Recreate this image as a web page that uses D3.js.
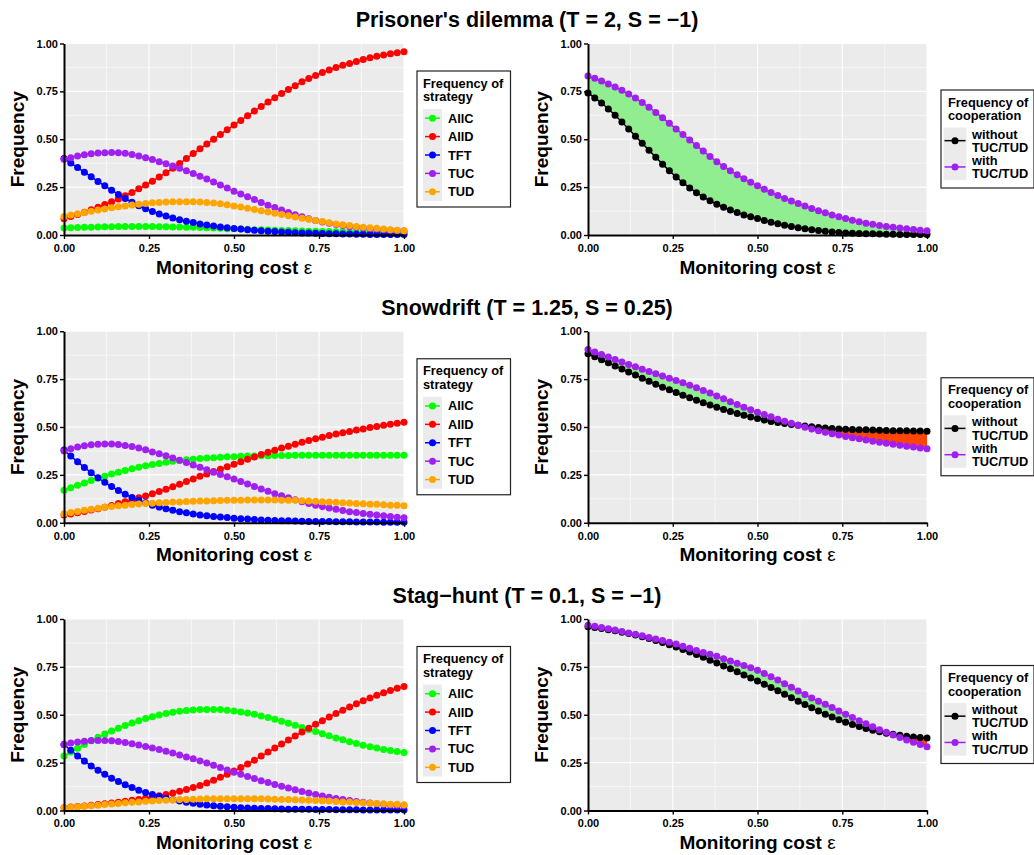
<!DOCTYPE html>
<html><head><meta charset="utf-8">
<script src="https://cdn.jsdelivr.net/npm/d3@7"></script>
<style>
body{margin:0;background:#fff}
svg{display:block}
text{font-family:"Liberation Sans",Arial,sans-serif;font-weight:bold;fill:#000}
</style>
</head><body>
<svg id="chart" width="1034" height="855"></svg>
<script>
// ---------- data ----------
const eps = [0,0.02,0.04,0.06,0.08,0.10,0.12,0.14,0.16,0.18,0.20,0.22,0.24,0.26,0.28,0.30,0.32,0.34,0.36,0.38,0.40,0.42,0.44,0.46,0.48,0.50,0.52,0.54,0.56,0.58,0.60,0.62,0.64,0.66,0.68,0.70,0.72,0.74,0.76,0.78,0.80,0.82,0.84,0.86,0.88,0.90,0.92,0.94,0.96,0.98,1.00];
const strategyNames = ["AllC","AllD","TFT","TUC","TUD"];
const strategyColors = ["#00FF00","#FF0000","#0000FF","#A020F0","#FFA500"];
const coopNames = [["without","TUC/TUD"],["with","TUC/TUD"]];
const coopColors = ["#000000","#A020F0"];
const gainColor = "#90EE90", lossColor = "#FF4500";
const tickValues = [0,0.25,0.5,0.75,1];
const minorValues = [0.125,0.375,0.625,0.875];
const gameTitles = ["Prisoner's dilemma (T = 2, S = \u22121)","Snowdrift (T = 1.25, S = 0.25)","Stag\u2212hunt (T = 0.1, S = \u22121)"];
const strategyLegendTitle = ["Frequency of","strategy"];
const coopLegendTitle = ["Frequency of","cooperation"];

// Prisoner's dilemma
const pdAllC = [0.037,0.038,0.039,0.040,0.041,0.042,0.043,0.043,0.044,0.044,0.044,0.044,0.044,0.044,0.043,0.043,0.042,0.042,0.041,0.040,0.039,0.038,0.036,0.035,0.033,0.032,0.031,0.030,0.028,0.027,0.026,0.025,0.024,0.023,0.022,0.021,0.020,0.019,0.018,0.018,0.017,0.016,0.016,0.015,0.015,0.014,0.014,0.013,0.013,0.012,0.012];
const pdAllD = [0.085,0.096,0.107,0.119,0.132,0.145,0.159,0.173,0.188,0.205,0.222,0.241,0.261,0.281,0.303,0.325,0.349,0.374,0.399,0.425,0.450,0.475,0.500,0.525,0.550,0.574,0.598,0.623,0.647,0.671,0.695,0.717,0.739,0.760,0.780,0.800,0.817,0.833,0.848,0.862,0.875,0.886,0.896,0.906,0.916,0.925,0.933,0.940,0.946,0.952,0.957];
const pdTFT = [0.400,0.376,0.352,0.328,0.304,0.280,0.257,0.234,0.212,0.191,0.171,0.153,0.137,0.123,0.110,0.099,0.089,0.080,0.072,0.065,0.058,0.052,0.047,0.042,0.038,0.034,0.031,0.028,0.025,0.022,0.020,0.018,0.016,0.014,0.012,0.011,0.010,0.009,0.008,0.007,0.006,0.005,0.005,0.004,0.004,0.003,0.003,0.003,0.002,0.002,0.002];
const pdTUC = [0.395,0.404,0.412,0.419,0.424,0.428,0.430,0.431,0.430,0.427,0.421,0.413,0.404,0.394,0.383,0.372,0.360,0.348,0.335,0.321,0.307,0.292,0.277,0.261,0.245,0.229,0.214,0.200,0.185,0.170,0.156,0.143,0.130,0.118,0.106,0.095,0.085,0.076,0.068,0.061,0.055,0.049,0.044,0.040,0.036,0.033,0.030,0.027,0.025,0.023,0.021];
const pdTUD = [0.097,0.104,0.111,0.118,0.124,0.130,0.136,0.142,0.147,0.152,0.157,0.161,0.165,0.168,0.170,0.172,0.173,0.174,0.174,0.173,0.172,0.170,0.167,0.163,0.158,0.152,0.146,0.140,0.133,0.127,0.120,0.114,0.107,0.101,0.094,0.088,0.082,0.076,0.070,0.064,0.058,0.054,0.050,0.045,0.041,0.038,0.035,0.031,0.028,0.025,0.022];
const pdWithout = [0.742,0.716,0.689,0.658,0.625,0.590,0.553,0.516,0.479,0.442,0.406,0.370,0.335,0.303,0.273,0.246,0.221,0.199,0.179,0.161,0.145,0.130,0.117,0.105,0.095,0.086,0.076,0.067,0.059,0.051,0.044,0.038,0.032,0.027,0.023,0.019,0.016,0.013,0.011,0.009,0.008,0.007,0.006,0.005,0.004,0.004,0.003,0.003,0.002,0.002,0.002];
const pdWith = [0.830,0.818,0.804,0.789,0.773,0.756,0.736,0.715,0.692,0.667,0.640,0.612,0.583,0.554,0.525,0.496,0.467,0.438,0.410,0.383,0.358,0.336,0.314,0.294,0.275,0.257,0.239,0.222,0.206,0.191,0.177,0.164,0.151,0.139,0.127,0.116,0.105,0.095,0.086,0.077,0.069,0.062,0.056,0.050,0.045,0.041,0.037,0.033,0.029,0.025,0.022];

// Snowdrift
const sdAllC = [0.170,0.183,0.196,0.208,0.220,0.232,0.243,0.254,0.264,0.273,0.282,0.290,0.297,0.304,0.310,0.316,0.321,0.325,0.329,0.332,0.335,0.338,0.340,0.342,0.344,0.345,0.347,0.348,0.349,0.350,0.350,0.351,0.351,0.351,0.352,0.352,0.352,0.352,0.353,0.353,0.353,0.353,0.353,0.353,0.353,0.353,0.353,0.353,0.353,0.353,0.353];
const sdAllD = [0.040,0.046,0.052,0.059,0.066,0.073,0.081,0.090,0.100,0.110,0.120,0.130,0.140,0.151,0.163,0.175,0.188,0.201,0.215,0.229,0.243,0.255,0.267,0.279,0.292,0.305,0.318,0.331,0.343,0.356,0.368,0.379,0.390,0.400,0.410,0.420,0.429,0.438,0.447,0.455,0.463,0.470,0.477,0.484,0.490,0.497,0.503,0.509,0.515,0.520,0.525];
const sdTFT = [0.380,0.348,0.318,0.289,0.261,0.235,0.211,0.189,0.168,0.149,0.132,0.117,0.104,0.092,0.082,0.073,0.065,0.058,0.052,0.046,0.041,0.037,0.033,0.030,0.027,0.024,0.021,0.019,0.017,0.015,0.013,0.012,0.011,0.010,0.009,0.008,0.007,0.007,0.006,0.006,0.005,0.005,0.005,0.004,0.004,0.004,0.004,0.003,0.003,0.003,0.003];
const sdTUC = [0.375,0.386,0.395,0.402,0.407,0.410,0.411,0.411,0.409,0.404,0.398,0.390,0.381,0.370,0.360,0.350,0.338,0.326,0.314,0.302,0.290,0.277,0.264,0.252,0.240,0.228,0.215,0.202,0.189,0.176,0.164,0.152,0.141,0.130,0.120,0.110,0.101,0.092,0.084,0.077,0.070,0.064,0.058,0.053,0.048,0.044,0.040,0.036,0.032,0.029,0.026];
const sdTUD = [0.047,0.053,0.059,0.065,0.071,0.076,0.081,0.085,0.089,0.092,0.095,0.098,0.100,0.102,0.104,0.106,0.108,0.109,0.111,0.112,0.113,0.114,0.115,0.116,0.117,0.118,0.118,0.119,0.119,0.119,0.119,0.119,0.118,0.118,0.117,0.115,0.114,0.112,0.110,0.109,0.107,0.105,0.103,0.101,0.099,0.097,0.096,0.094,0.092,0.091,0.089];
const sdWithout = [0.883,0.867,0.851,0.835,0.819,0.803,0.787,0.771,0.755,0.739,0.723,0.708,0.694,0.680,0.666,0.653,0.640,0.627,0.615,0.603,0.592,0.581,0.571,0.561,0.552,0.544,0.536,0.529,0.523,0.518,0.513,0.509,0.505,0.501,0.498,0.495,0.492,0.490,0.488,0.487,0.486,0.485,0.484,0.483,0.482,0.481,0.480,0.480,0.479,0.479,0.478];
const sdWith = [0.905,0.892,0.879,0.866,0.853,0.839,0.826,0.814,0.802,0.790,0.778,0.766,0.755,0.743,0.731,0.718,0.705,0.691,0.677,0.662,0.647,0.632,0.617,0.603,0.590,0.577,0.565,0.553,0.541,0.530,0.519,0.509,0.499,0.490,0.481,0.473,0.465,0.458,0.451,0.444,0.438,0.432,0.426,0.420,0.415,0.410,0.405,0.400,0.395,0.390,0.386];

// Stag-hunt
const shAllC = [0.285,0.305,0.325,0.345,0.364,0.382,0.399,0.415,0.430,0.444,0.457,0.469,0.480,0.490,0.499,0.507,0.513,0.518,0.522,0.525,0.527,0.528,0.528,0.527,0.524,0.520,0.515,0.509,0.502,0.494,0.485,0.476,0.466,0.456,0.445,0.434,0.423,0.412,0.401,0.390,0.379,0.369,0.359,0.350,0.341,0.333,0.326,0.319,0.313,0.308,0.303];
const shAllD = [0.015,0.018,0.021,0.024,0.027,0.031,0.035,0.039,0.043,0.048,0.053,0.058,0.064,0.070,0.077,0.084,0.092,0.101,0.110,0.120,0.131,0.144,0.158,0.173,0.189,0.206,0.224,0.243,0.263,0.284,0.305,0.326,0.347,0.368,0.389,0.410,0.430,0.450,0.469,0.488,0.506,0.524,0.541,0.558,0.573,0.588,0.602,0.615,0.627,0.638,0.648];
const shTFT = [0.345,0.314,0.285,0.258,0.233,0.210,0.189,0.169,0.151,0.135,0.120,0.106,0.094,0.083,0.073,0.064,0.056,0.049,0.043,0.038,0.033,0.029,0.025,0.022,0.019,0.017,0.015,0.013,0.012,0.011,0.010,0.009,0.008,0.007,0.007,0.006,0.006,0.005,0.005,0.005,0.004,0.004,0.004,0.004,0.003,0.003,0.003,0.003,0.003,0.003,0.003];
const shTUC = [0.345,0.352,0.358,0.362,0.365,0.366,0.366,0.364,0.360,0.355,0.349,0.342,0.334,0.326,0.318,0.309,0.300,0.290,0.280,0.270,0.259,0.248,0.236,0.224,0.212,0.200,0.189,0.178,0.167,0.156,0.146,0.136,0.126,0.117,0.108,0.099,0.091,0.083,0.076,0.069,0.063,0.057,0.052,0.047,0.043,0.039,0.035,0.032,0.029,0.027,0.025];
const shTUD = [0.015,0.017,0.020,0.022,0.025,0.028,0.031,0.034,0.037,0.040,0.043,0.045,0.048,0.050,0.052,0.054,0.055,0.057,0.058,0.059,0.060,0.061,0.061,0.062,0.062,0.062,0.062,0.062,0.061,0.061,0.060,0.059,0.058,0.057,0.056,0.055,0.054,0.052,0.051,0.049,0.047,0.045,0.044,0.042,0.040,0.038,0.036,0.035,0.033,0.032,0.030];
const shWithout = [0.960,0.955,0.950,0.944,0.938,0.931,0.924,0.916,0.907,0.898,0.888,0.877,0.866,0.854,0.841,0.828,0.814,0.800,0.785,0.770,0.755,0.740,0.724,0.708,0.692,0.676,0.659,0.642,0.625,0.607,0.589,0.571,0.553,0.536,0.519,0.503,0.488,0.474,0.461,0.449,0.438,0.428,0.419,0.411,0.404,0.398,0.393,0.388,0.384,0.381,0.378];
const shWith = [0.968,0.962,0.955,0.949,0.942,0.935,0.927,0.920,0.912,0.904,0.896,0.888,0.879,0.869,0.858,0.847,0.836,0.825,0.816,0.805,0.793,0.781,0.769,0.757,0.745,0.733,0.716,0.699,0.681,0.662,0.643,0.624,0.606,0.588,0.571,0.555,0.538,0.520,0.503,0.486,0.469,0.453,0.437,0.422,0.408,0.394,0.381,0.368,0.356,0.344,0.333];

const rows = [
  {title: gameTitles[0], strategies: [pdAllC, pdAllD, pdTFT, pdTUC, pdTUD], coop: [pdWithout, pdWith]},
  {title: gameTitles[1], strategies: [sdAllC, sdAllD, sdTFT, sdTUC, sdTUD], coop: [sdWithout, sdWith]},
  {title: gameTitles[2], strategies: [shAllC, shAllD, shTFT, shTUC, shTUD], coop: [shWithout, shWith]}
];

// ---------- layout ----------
const svg = d3.select("#chart");
const rowTops = [43.5, 331.25, 619];
const plotH = 191.5;
const leftX = [64, 404], rightX = [588, 927];
const titleX = 527;
const dotR = 3.5;

function frame(xr, top) {
  const x = d3.scaleLinear().domain([0,1]).range(xr);
  const y = d3.scaleLinear().domain([0,1]).range([top + plotH, top]);
  const g = svg.append("g");
  g.append("rect").attr("x", xr[0]).attr("y", top).attr("width", xr[1]-xr[0]).attr("height", plotH).attr("fill", "#EBEBEB");
  const grid = g.append("g").attr("stroke", "#fff").attr("fill", "none");
  grid.selectAll(".mx").data(minorValues).join("line").attr("stroke-width", 0.55)
    .attr("x1", d => x(d)).attr("x2", d => x(d)).attr("y1", top).attr("y2", top+plotH);
  grid.selectAll(".my").data(minorValues).join("line").attr("stroke-width", 0.55)
    .attr("y1", d => y(d)).attr("y2", d => y(d)).attr("x1", xr[0]).attr("x2", xr[1]);
  grid.selectAll(".Mx").data(tickValues).join("line").attr("stroke-width", 1.1)
    .attr("x1", d => x(d)).attr("x2", d => x(d)).attr("y1", top).attr("y2", top+plotH);
  grid.selectAll(".My").data(tickValues).join("line").attr("stroke-width", 1.1)
    .attr("y1", d => y(d)).attr("y2", d => y(d)).attr("x1", xr[0]).attr("x2", xr[1]);
  return {g, x, y};
}

function axes(p, xr, top) {
  const fmt = d3.format(".2f");
  const ya = p.g.append("g").attr("transform", `translate(${xr[0]},0)`)
    .call(d3.axisLeft(p.y).tickValues(tickValues).tickFormat(fmt).tickSize(4).tickSizeOuter(0).tickPadding(2));
  const xa = p.g.append("g").attr("transform", `translate(0,${top+plotH})`)
    .call(d3.axisBottom(p.x).tickValues(tickValues).tickFormat(fmt).tickSize(4).tickSizeOuter(0).tickPadding(5));
  [ya, xa].forEach(a => {
    a.select(".domain").attr("stroke", "#000").attr("stroke-width", 2);
    a.selectAll(".tick line").attr("stroke", "#000").attr("stroke-width", 1.4);
    a.selectAll(".tick text").attr("font-size", 11).attr("font-family", '"Liberation Sans",Arial,sans-serif').attr("font-weight", "bold").attr("fill", "#000");
  });
  const cx = (xr[0] + xr[1]) / 2;
  const t = p.g.append("text").attr("x", cx).attr("y", top + plotH + 38.5).attr("text-anchor", "middle").attr("font-size", 19);
  t.append("tspan").text("Monitoring cost ");
  t.append("tspan").attr("font-weight", "normal").text("\u03B5");
  p.g.append("text").attr("transform", `translate(${xr[0]-40},${top + plotH/2}) rotate(-90)`)
    .attr("text-anchor", "middle").attr("font-size", 19).text("Frequency");
}

function drawSeries(p, seriesList, colors) {
  const line = d3.line().x((d, i) => p.x(eps[i])).y(d => p.y(d));
  seriesList.forEach((s, k) => {
    p.g.append("path").datum(s).attr("d", line).attr("fill", "none").attr("stroke", colors[k]).attr("stroke-width", 1.5);
  });
  seriesList.forEach((s, k) => {
    p.g.append("g").selectAll("circle").data(s).join("circle")
      .attr("cx", (d, i) => p.x(eps[i])).attr("cy", d => p.y(d)).attr("r", dotR).attr("fill", colors[k]);
  });
}

function drawRibbon(p, wo, wi) {
  const pts = [];
  for (let i = 0; i < eps.length; i++) {
    pts.push({x: eps[i], a: wo[i], b: wi[i]});
    if (i < eps.length - 1) {
      const d0 = wi[i] - wo[i], d1 = wi[i+1] - wo[i+1];
      if (d0 * d1 < 0) {
        const t = d0 / (d0 - d1);
        const a = wo[i] + t * (wo[i+1] - wo[i]);
        pts.push({x: eps[i] + t * (eps[i+1] - eps[i]), a: a, b: a});
      }
    }
  }
  const gain = d3.area().x(d => p.x(d.x)).y0(d => p.y(d.a)).y1(d => p.y(Math.max(d.a, d.b)));
  const loss = d3.area().x(d => p.x(d.x)).y0(d => p.y(Math.min(d.a, d.b))).y1(d => p.y(d.a));
  p.g.append("path").datum(pts).attr("d", gain).attr("fill", gainColor);
  p.g.append("path").datum(pts).attr("d", loss).attr("fill", lossColor);
}

function legendStrategy(top) {
  const bx = 417, by = top + 27.5, bw = 93.5, bh = 136;
  const g = svg.append("g");
  g.append("rect").attr("x", bx).attr("y", by).attr("width", bw).attr("height", bh).attr("fill", "#fff").attr("stroke", "#222").attr("stroke-width", 1.2);
  strategyLegendTitle.forEach((t, i) => g.append("text").attr("x", bx + 6).attr("y", by + 16.5 + i*13.5).attr("font-size", 12.8).text(t));
  const ky = by + 38, kh = 18.4, kx = bx + 6, kw = 19;
  g.append("rect").attr("x", kx).attr("y", ky).attr("width", kw).attr("height", kh*5).attr("fill", "#EBEBEB");
  strategyNames.forEach((n, i) => {
    const cy = ky + kh*i + kh/2;
    g.append("line").attr("x1", kx + 2).attr("x2", kx + kw - 2).attr("y1", cy).attr("y2", cy).attr("stroke", strategyColors[i]).attr("stroke-width", 1.5);
    g.append("circle").attr("cx", kx + kw/2).attr("cy", cy).attr("r", dotR).attr("fill", strategyColors[i]);
    g.append("text").attr("x", bx + 31).attr("y", cy + 4.5).attr("font-size", 12.8).text(n);
  });
}

function legendCoop(top) {
  const bx = 941, by = top + 46.5, bw = 93, bh = 98;
  const g = svg.append("g");
  g.append("rect").attr("x", bx).attr("y", by).attr("width", bw).attr("height", bh).attr("fill", "#fff").attr("stroke", "#222").attr("stroke-width", 1.2);
  coopLegendTitle.forEach((t, i) => g.append("text").attr("x", bx + 7).attr("y", by + 16.5 + i*13.5).attr("font-size", 12.8).text(t));
  const ky = by + 37.5, kh = 26.3, kx = bx + 2.5, kw = 23;
  g.append("rect").attr("x", kx).attr("y", ky).attr("width", kw).attr("height", kh*2).attr("fill", "#EBEBEB");
  coopNames.forEach((n, i) => {
    const cy = ky + kh*i + kh/2;
    g.append("line").attr("x1", kx + 1).attr("x2", kx + kw - 1).attr("y1", cy).attr("y2", cy).attr("stroke", coopColors[i]).attr("stroke-width", 1.5);
    g.append("circle").attr("cx", kx + kw/2).attr("cy", cy).attr("r", dotR).attr("fill", coopColors[i]);
    n.forEach((line, j) => g.append("text").attr("x", bx + 31).attr("y", cy - 2 + j*13.3).attr("font-size", 12.8).text(line));
  });
}

rows.forEach((row, r) => {
  const top = rowTops[r];
  svg.append("text").attr("x", titleX).attr("y", top - 16.5).attr("text-anchor", "middle").attr("font-size", 21.5).text(row.title);

  const pl = frame(leftX, top);
  drawSeries(pl, row.strategies, strategyColors);
  axes(pl, leftX, top);
  legendStrategy(top);

  const pr = frame(rightX, top);
  drawRibbon(pr, row.coop[0], row.coop[1]);
  drawSeries(pr, row.coop, coopColors);
  axes(pr, rightX, top);
  legendCoop(top);
});
</script>
</body></html>
